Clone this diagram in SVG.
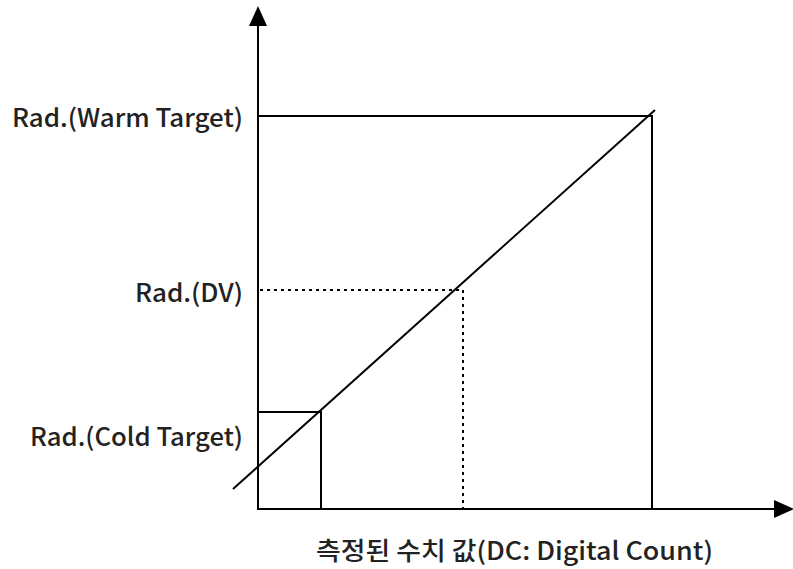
<svg xmlns="http://www.w3.org/2000/svg" width="793" height="569" viewBox="0 0 793 569">
<style>
.ln{stroke:#000;stroke-width:2;fill:none}
.dot{stroke:#000;stroke-width:2;fill:none;stroke-dasharray:3 4}
.t{font-family:"Noto Sans CJK KR","Noto Sans",sans-serif;font-size:25px;font-weight:500;fill:#222}
</style>
<defs>
<marker id="ah" viewBox="0 0 10 10" refX="9" refY="5" markerWidth="10" markerHeight="10" orient="auto" markerUnits="strokeWidth"><path d="M0,0.5 L10,5 L0,9.5 z" fill="#000"/></marker>
</defs>
<rect width="793" height="569" fill="#fff"/>
<g id="axes">
<line class="ln" x1="258" y1="509" x2="258" y2="8" marker-end="url(#ah)"/>
<line class="ln" x1="257" y1="509" x2="792" y2="509" marker-end="url(#ah)"/>
</g>
<g id="connectors">
<line class="ln" x1="233" y1="489" x2="655" y2="110"/>
<polyline class="ln" points="258,116 652,116 652,509"/>
<polyline class="ln" points="258,412 321,412 321,509"/>
<polyline class="dot" points="260,290 463,290 463,509"/>
</g>
<g id="labels">
<text class="t" x="12" y="127" textLength="231" lengthAdjust="spacingAndGlyphs">Rad.(Warm Target)</text>
<text class="t" x="135" y="302" textLength="108" lengthAdjust="spacingAndGlyphs">Rad.(DV)</text>
<text class="t" x="30" y="446" textLength="213" lengthAdjust="spacingAndGlyphs">Rad.(Cold Target)</text>
<text class="t" x="316" y="560" textLength="397" lengthAdjust="spacingAndGlyphs">측정된 수치 값(DC: Digital Count)</text>
</g>
</svg>
